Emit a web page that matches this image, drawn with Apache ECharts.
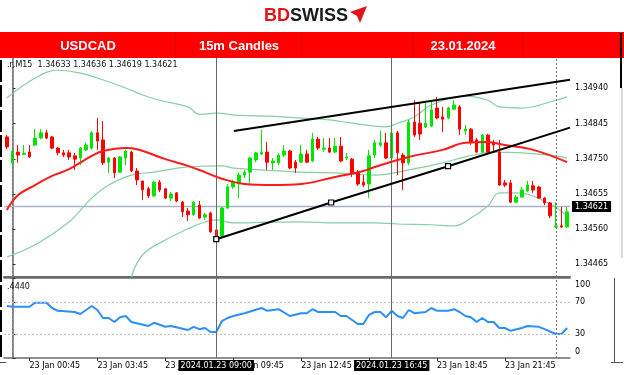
<!DOCTYPE html>
<html><head><meta charset="utf-8">
<script src="https://cdn.jsdelivr.net/npm/echarts@6/dist/echarts.min.js"></script>
<style>html,body{margin:0;padding:0;background:#fff}#c{width:624px;height:375px}</style>
</head><body><div id="c"></div>
<script>
// ---- data (15-minute candle index: 0 = 23 Jan 00:00) ----
const candleStart = -1;
const opens = [
1.34809,1.34739,1.34768,1.34762,1.34768,1.34787,1.34806,1.34820,1.34809,1.34779,
1.34766,1.34766,1.34758,1.34752,1.34774,1.34779,1.34820,1.34801,1.34741,1.34752,
1.34714,1.34752,1.34768,1.34717,1.34690,1.34669,1.34650,1.34687,1.34669,1.34644,
1.34658,1.34633,1.34609,1.34599,1.34625,1.34593,1.34604,1.34558,1.34542,1.34617,
1.34674,1.34682,1.34706,1.34714,1.34747,1.34763,1.34768,1.34739,1.34739,1.34760,
1.34771,1.34741,1.34741,1.34763,1.34744,1.34803,1.34776,1.34779,1.34768,1.34784,
1.34752,1.34749,1.34714,1.34687,1.34682,1.34760,1.34787,1.34793,1.34752,1.34820,
1.34760,1.34739,1.34849,1.34846,1.34836,1.34838,1.34887,1.34863,1.34860,1.34884,
1.34890,1.34825,1.34830,1.34801,1.34768,1.34814,1.34793,1.34768,1.34685,1.34685,
1.34633,1.34647,1.34663,1.34677,1.34674,1.34644,1.34631,1.34566,1.34569,1.34566];
const closes = [
1.34782,1.34771,1.34760,1.34765,1.34755,1.34806,1.34820,1.34806,1.34779,1.34766,
1.34760,1.34755,1.34749,1.34779,1.34787,1.34820,1.34798,1.34739,1.34752,1.34712,
1.34755,1.34771,1.34717,1.34693,1.34666,1.34650,1.34687,1.34666,1.34644,1.34655,
1.34636,1.34607,1.34599,1.34633,1.34590,1.34599,1.34553,1.34542,1.34617,1.34674,
1.34687,1.34706,1.34714,1.34752,1.34766,1.34768,1.34741,1.34744,1.34760,1.34771,
1.34725,1.34725,1.34763,1.34741,1.34803,1.34779,1.34779,1.34768,1.34784,1.34744,
1.34755,1.34712,1.34682,1.34679,1.34758,1.34793,1.34793,1.34752,1.34820,1.34766,
1.34739,1.34849,1.34814,1.34817,1.34846,1.34882,1.34860,1.34857,1.34887,1.34895,
1.34830,1.34830,1.34795,1.34768,1.34814,1.34768,1.34787,1.34679,1.34679,1.34633,
1.34647,1.34666,1.34679,1.34666,1.34644,1.34631,1.34596,1.34569,1.34566,1.34607];
const lows = [
1.34776,1.34725,1.34739,1.34760,1.34752,1.34784,1.34803,1.34803,1.34776,1.34760,
1.34755,1.34747,1.34720,1.34733,1.34771,1.34774,1.34774,1.34733,1.34712,1.34698,
1.34712,1.34733,1.34714,1.34679,1.34639,1.34644,1.34647,1.34660,1.34642,1.34636,
1.34633,1.34593,1.34582,1.34596,1.34588,1.34585,1.34550,1.34534,1.34539,1.34615,
1.34669,1.34644,1.34698,1.34679,1.34741,1.34760,1.34720,1.34720,1.34733,1.34755,
1.34722,1.34712,1.34739,1.34739,1.34741,1.34774,1.34768,1.34766,1.34766,1.34741,
1.34747,1.34701,1.34677,1.34674,1.34644,1.34752,1.34782,1.34749,1.34747,1.34706,
1.34666,1.34733,1.34809,1.34801,1.34833,1.34836,1.34857,1.34822,1.34857,1.34882,
1.34814,1.34814,1.34787,1.34766,1.34766,1.34766,1.34768,1.34677,1.34674,1.34631,
1.34631,1.34644,1.34660,1.34658,1.34642,1.34625,1.34590,1.34563,1.34563,1.34563];
const highs = [
1.34814,1.34774,1.34787,1.34787,1.34787,1.34830,1.34830,1.34828,1.34812,1.34782,
1.34774,1.34774,1.34766,1.34782,1.34793,1.34825,1.34860,1.34852,1.34755,1.34755,
1.34758,1.34774,1.34771,1.34725,1.34690,1.34674,1.34690,1.34693,1.34671,1.34660,
1.34660,1.34636,1.34617,1.34636,1.34636,1.34604,1.34607,1.34561,1.34620,1.34682,
1.34693,1.34712,1.34720,1.34755,1.34768,1.34828,1.34795,1.34752,1.34766,1.34787,
1.34774,1.34747,1.34787,1.34774,1.34820,1.34809,1.34806,1.34806,1.34806,1.34809,
1.34766,1.34752,1.34720,1.34706,1.34774,1.34801,1.34825,1.34820,1.34825,1.34825,
1.34766,1.34855,1.34908,1.34900,1.34900,1.34908,1.34917,1.34890,1.34890,1.34908,
1.34895,1.34841,1.34833,1.34806,1.34817,1.34817,1.34801,1.34801,1.34693,1.34693,
1.34652,1.34674,1.34690,1.34690,1.34677,1.34647,1.34633,1.34633,1.34620,1.34620];

const upperBand = [[-1,1.34914],[4,1.34968],[8,1.34989],[12,1.34981],[15,1.34968],[20,1.34941],[23,1.34922],[26,1.34908],[31,1.34890],[33,1.34870],[36,1.34873],[40,1.34867],[45,1.34865],[51,1.34860],[56,1.34855],[60,1.34846],[64,1.34838],[66,1.34836],[68,1.34846],[71,1.34863],[74,1.34895],[80,1.34919],[84,1.34908],[86,1.34890],[90,1.34887],[96,1.34908],[98,1.34917]];
const middleBand = [[-1,1.34485],[4,1.34518],[10,1.34580],[14,1.34644],[17,1.34679],[21,1.34706],[25,1.34714],[31,1.34728],[37,1.34731],[39,1.34725],[51,1.34714],[57,1.34712],[64,1.34706],[70,1.34720],[76,1.34739],[80,1.34755],[85,1.34768],[90,1.34766],[96,1.34758],[98,1.34752]];
const lowerBand = [[21,1.34431],[23,1.34491],[27,1.34531],[31,1.34561],[33,1.34574],[36,1.34585],[39,1.34577],[45,1.34579],[51,1.34580],[57,1.34577],[64,1.34577],[68,1.34574],[74,1.34572],[78,1.34569],[81,1.34590],[84,1.34623],[86,1.34658],[89,1.34658],[94,1.34636],[98,1.34596]];
const maLine = [[-1,1.34612],[1,1.34652],[4,1.34679],[7,1.34704],[10,1.34722],[14,1.34758],[16,1.34771],[20,1.34779],[22,1.34776],[27,1.34749],[31,1.34731],[34,1.34714],[37,1.34696],[41,1.34682],[46,1.34679],[51,1.34682],[57,1.34701],[62,1.34717],[64,1.34728],[70,1.34755],[76,1.34774],[80,1.34793],[84,1.34795],[87,1.34787],[92,1.34774],[98,1.34741]];
const rsiValues = [[-1,65],[0,64],[3,64],[4,69],[6,69],[7,62.5],[8,59],[11,57.5],[12,55],[13,60],[14,65],[15,60],[16,50],[17,50],[18,45],[19,51],[20,52.5],[21,45],[24,40],[25,44],[27,39],[28,40],[31,35],[32,39],[33,36],[34,37.5],[35,32.5],[36,32.5],[37,46],[38,50],[39,52.5],[41,56],[44,62.5],[45,59],[47,61],[49,52.5],[51,56],[52,56],[53,61],[54,57.5],[57,57.5],[58,52.5],[59,52.5],[61,42.5],[62,42.5],[63,54],[64,57.5],[65,57.5],[66,51],[67,59],[68,52.5],[69,50],[70,60],[71,56],[73,57.5],[74,62.5],[75,59],[77,59],[78,61],[79,57.5],[80,52.5],[81,51],[82,45],[83,50],[84,45],[85,45],[86,37.5],[87,37.5],[88,34],[90,37.5],[91,40],[93,39],[94,36],[96,30],[97,30],[98,37.5]];
const trendTop = [[39.1,1.34825],[98.5,1.34963]];
const trendBottom = [[36,1.34533],[56.3,1.34632],[76.95,1.34730],[98.5,1.34834]];
const trendAnchors = 3;

const priceTicks = [1.34465,1.34560,1.34655,1.34750,1.34845,1.34940];
const rsiTicks = [0,30,70,100];
const rsiLevels = [70,30];
const timeTicks = [3,15,27,39,51,63,75,87];
const timeLabels = ['23 Jan 00:45','23 Jan 03:45','23 Jan 06:45','23 Jan 09:45','23 Jan 12:45','23 Jan 15:45','23 Jan 18:45','23 Jan 21:45'];
const markedTimes = [36,67];
const markedLabels = ['2024.01.23 09:00','2024.01.23 16:45'];
const daySeparators = [0,96];
const lastPrice = 1.34621;
const headerCells = ['USDCAD','15m Candles','23.01.2024'];
const symbolText = '.r,M15';
const ohlcText = ['1.34633','1.34636','1.34619','1.34621'];
const rsiHeader = '.4440';

// ---- chart ----
const FONT = 'DejaVu Sans';
const candles = opens.map((o,i)=>[candleStart+i,o,closes[i],lows[i],highs[i]]);
const xMin = -1.5, xMax = 98.5;
const yMin = 1.34431, yMax = 1.35022;

const vLineStyle = {color:'#6a6a6a', type:'solid', width:1};
const dotStyle = {color:'#777', type:[2,2], width:1};

const chart = echarts.init(document.getElementById('c'), null, {renderer:'canvas'});
const bandStyle = {color:'#86cfa2', width:1.2};
const option = {
  animation:false,
  backgroundColor:'#fff',
  grid:[
    {left:4, right:54, top:58, height:219},
    {left:4, right:54, top:278, height:80}
  ],
  xAxis:[
    {type:'value', gridIndex:0, min:xMin, max:xMax, axisLine:{show:true,lineStyle:{color:'#6b6b6b',width:2}}, axisTick:{show:false}, axisLabel:{show:false}, splitLine:{show:false}},
    {type:'value', gridIndex:1, min:xMin, max:xMax, axisLine:{show:true,onZero:false,lineStyle:{color:'#6b6b6b',width:1.5}},
     axisTick:{show:true, customValues:timeTicks, length:3, lineStyle:{color:'#333'}},
     axisLabel:{show:true, customValues:timeTicks, align:'left', margin:4, fontSize:8, fontFamily:FONT, color:'#000',
       formatter:(v)=>{const k=timeTicks.indexOf(Math.round(v)); return k>=0?timeLabels[k]:'';}},
     splitLine:{show:false}},
    {type:'value', gridIndex:1, position:'top', min:xMin, max:xMax, axisLine:{show:true,onZero:false,lineStyle:{color:'#6b6b6b',width:1.5}}, axisTick:{show:false}, axisLabel:{show:false}, splitLine:{show:false}}
  ],
  yAxis:[
    {type:'value', gridIndex:0, position:'right', min:yMin, max:yMax, scale:true,
     axisLine:{show:true, lineStyle:{color:'#6b6b6b',width:1.5}},
     axisTick:{show:true, customValues:priceTicks, length:3, lineStyle:{color:'#333'}},
     axisLabel:{show:true, customValues:priceTicks, margin:5, fontSize:8, fontFamily:FONT, color:'#000', formatter:(v)=>v.toFixed(5)},
     splitLine:{show:false}},
    {type:'value', gridIndex:1, position:'right', min:0, max:100,
     axisLine:{show:true, lineStyle:{color:'#6b6b6b',width:1.5}},
     axisTick:{show:true, customValues:rsiTicks, length:3, lineStyle:{color:'#333'}},
     axisLabel:{show:true, customValues:rsiTicks, margin:5, fontSize:8, fontFamily:FONT, color:'#000',
       formatter:(v)=> v===100?'{t|100}':(v===0?'{b|0}':String(v)),
       rich:{t:{padding:[13,0,0,0],fontSize:8,fontFamily:FONT,color:'#000'}, b:{padding:[0,0,12,0],fontSize:8,fontFamily:FONT,color:'#000'}}},
     splitLine:{show:false}}
  ],
  series:[
    {type:'line', name:'lastPrice', xAxisIndex:0, yAxisIndex:0, data:[[xMin,lastPrice],[xMax,lastPrice]], showSymbol:false,
     lineStyle:{color:'#a9b2c4', width:1.5}, z:2,
     endLabel:{show:true, distance:2, formatter:()=>lastPrice.toFixed(5), backgroundColor:'#000', color:'#fff', padding:[2,3,1,3], fontSize:8, fontFamily:FONT}},
    {type:'line', name:'upper', xAxisIndex:0, yAxisIndex:0, data:upperBand, showSymbol:false, smooth:0.4, lineStyle:bandStyle, z:3},
    {type:'line', name:'middle', xAxisIndex:0, yAxisIndex:0, data:middleBand, showSymbol:false, smooth:0.4, lineStyle:bandStyle, z:3,
     markLine:{silent:true, symbol:'none', animation:false,
       data:[
         ...markedTimes.map(t=>({xAxis:t, lineStyle:vLineStyle, label:{show:false}})),
         ...daySeparators.map(t=>({xAxis:t, lineStyle:dotStyle, label:{show:false}}))
       ]}},
    {type:'line', name:'lower', xAxisIndex:0, yAxisIndex:0, data:lowerBand, showSymbol:false, smooth:0.4, lineStyle:bandStyle, z:3},
    {type:'candlestick', xAxisIndex:0, yAxisIndex:0, data:candles, encode:{x:0,y:[1,2,3,4]}, barWidth:3, z:4,
     itemStyle:{color:'#00e400', color0:'#ff0000', borderColor:'#00e400', borderColor0:'#ff0000', borderWidth:1}},
    {type:'line', name:'ma', xAxisIndex:0, yAxisIndex:0, data:maLine, showSymbol:false, smooth:0.4, lineStyle:{color:'#ff1a1a', width:2}, z:5},
    {type:'line', name:'trendTop', xAxisIndex:0, yAxisIndex:0, data:trendTop, showSymbol:false, lineStyle:{color:'#000', width:2}, z:6},
    {type:'line', name:'trendBottom', xAxisIndex:0, yAxisIndex:0,
     data:trendBottom.map((p,i)=>({value:p, symbol: i<trendAnchors?'rect':'none'})),
     symbolSize:5, showAllSymbol:true, lineStyle:{color:'#000', width:2},
     itemStyle:{color:'#fff', borderColor:'#000', borderWidth:1.2}, z:6},
    {type:'line', name:'rsi', xAxisIndex:1, yAxisIndex:1, data:rsiValues, showSymbol:false, lineStyle:{color:'#2b8ff5', width:2}, z:5,
     markLine:{silent:true, symbol:'none', z:10, animation:false,
       data:[
         ...rsiLevels.map(v=>({yAxis:v, lineStyle:{color:'#bdbdbd', type:[2,2], width:1}, label:{show:false}})),
         ...daySeparators.map(t=>({xAxis:t, lineStyle:dotStyle, label:{show:false}})),
         ...markedTimes.map((t,i)=>({xAxis:t, lineStyle:vLineStyle,
            label:{show:true, position:'start', distance:2, formatter:markedLabels[i], backgroundColor:'#000', color:'#fff', padding:[2,2,1,2], fontSize:8, fontFamily:FONT}}))
       ]}}
  ],
  graphic:[
    {type:'rect', z:100, shape:{x:0,y:32,width:624,height:26}, style:{fill:'#ff0000'}},
    ...[175,301,412,523].map(x=>({type:'rect', z:101, shape:{x:x,y:32,width:1,height:26}, style:{fill:'rgba(150,0,0,0.25)'}})),
    ...headerCells.map((s,i)=>({type:'text', z:102, x:[88,239,463][i], y:46,
        style:{text:s, fill:'#fff', font:'bold 13px "Liberation Sans", Arial', textAlign:'center', align:'center', textVerticalAlign:'middle', verticalAlign:'middle'}})),
    {type:'text', z:102, x:264, y:16, style:{text:'BD', fill:'#e3131b', font:'bold 18px "Liberation Sans", Arial', textAlign:'left', align:'left', textVerticalAlign:'middle', verticalAlign:'middle'}},
    {type:'text', z:102, x:290, y:16, style:{text:'SWISS', fill:'#1a1a1a', font:'bold 18px "Liberation Sans", Arial', textAlign:'left', align:'left', textVerticalAlign:'middle', verticalAlign:'middle'}},
    {type:'polygon', z:102, shape:{points:[[350,12],[367,6],[360,23],[357,16]]}, style:{fill:'#e3131b'}},
    {type:'rect', z:102, shape:{x:620,y:33,width:2,height:55}, style:{fill:'#000'}},
    {type:'rect', z:102, shape:{x:621,y:88,width:2,height:170}, style:{fill:'#d9d9d9'}},
    {type:'line', z:102, shape:{x1:614.5,y1:278,x2:614.5,y2:362}, style:{stroke:'#555', lineWidth:1}},
    {type:'line', z:102, shape:{x1:611,y1:362.5,x2:623,y2:362.5}, style:{stroke:'#555', lineWidth:1}},
    {type:'line', z:102, shape:{x1:1,y1:60,x2:1,y2:357}, style:{stroke:'#000', lineWidth:2, lineDash:[22,3]}},
    {type:'line', z:102, shape:{x1:0,y1:362.5,x2:6,y2:362.5}, style:{stroke:'#555', lineWidth:1}},
    {type:'text', z:50, x:7, y:65, style:{text:symbolText+'  '+ohlcText.join(' '), fill:'#111', font:'8px "DejaVu Sans"', textAlign:'left', align:'left', textVerticalAlign:'middle', verticalAlign:'middle'}},
    {type:'text', z:50, x:7, y:287, style:{text:rsiHeader, fill:'#111', font:'8px "DejaVu Sans"', textAlign:'left', align:'left', textVerticalAlign:'middle', verticalAlign:'middle'}}
  ]
};
chart.setOption(option);
</script>
</body></html>
